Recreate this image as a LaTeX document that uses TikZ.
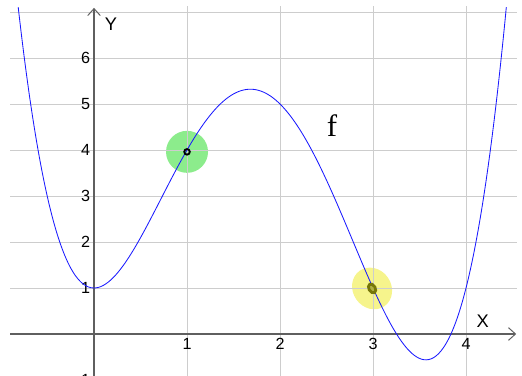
\documentclass[tikz,border=0pt]{standalone}
\usepackage{fontspec}
\setmainfont{Liberation Sans}
\newfontfamily\fserif{Liberation Serif}
\usetikzlibrary{arrows.meta}
\definecolor{plotGrid}{RGB}{205,205,205}
\definecolor{plotAxis}{RGB}{95,95,95}
\definecolor{plotCurve}{RGB}{25,25,255}
\definecolor{plotGreen}{RGB}{140,236,140}
\definecolor{plotYellow}{RGB}{246,244,140}
\definecolor{plotOlive}{RGB}{118,118,8}

\begin{document}
\begin{tikzpicture}[
      x=2.325cm, y=1.15cm,
      gridline/.style={draw=plotGrid, line width=0.6pt},
      axisline/.style={draw=plotAxis, line width=1.4pt, -{Straight Barb[length=5pt,width=9pt,line width=0.7pt]}},
      ticklabel/.style={font=\fontsize{11.5}{13}\selectfont, inner sep=0pt},
      axislabel/.style={font=\fontsize{13}{15}\selectfont, inner sep=0pt}
    ]
    \useasboundingbox (-1.011,-0.913) rectangle (4.602,7.261);
    \clip (-1.011,-0.913) rectangle (4.602,7.261);

    \fill[plotGreen] (1,3.96) circle (0.525cm);
    \fill[plotYellow, rotate around={35:(2.99,0.99)}] (2.99,0.99) ellipse (0.48cm and 0.54cm);

    \foreach \y in {1,...,7} {
      \draw[gridline] (-0.9,\y) -- (4.55,\y);
    }
    \foreach \x in {1,...,4} {
      \draw[gridline] (\x,-1.2) -- (\x,7.12);
    }

    \draw[axisline] (-0.9,0) -- (4.54,0);
    \draw[axisline] (0,-1.2) -- (0,7.09);

    \foreach \y in {1,...,6} {
      \node[ticklabel, anchor=east] (ylab\y) at (-0.04,\y) {\y};
    }
    \node[ticklabel, anchor=east] (ylabm1) at (-0.04,-1) {-1};
    \foreach \x in {1,...,4} {
      \node[ticklabel] (xlab\x) at (\x,-0.21) {\x};
    }
    \node[axislabel] (ylabel) at (0.183,6.74) {Y};
    \node[axislabel] (xlabel) at (4.18,0.28) {X};

    \begin{scope}
      \clip (-1,-1) rectangle (4.6,7.1);
      \draw[plotCurve, line width=0.6pt, domain=-0.83:4.45, samples=200, smooth]
        plot (\x, {0.5*(\x)^4-3.5*(\x)^3+6*(\x)^2+1});
    \end{scope}

    \node[font=\fserif\fontsize{22}{24}\selectfont, inner sep=0pt] (fname) at (2.56,4.54) {f};

    \draw[black, line width=1.3pt] (1,3.96) circle (0.07cm);
    \draw[plotOlive, line width=2pt, fill=plotOlive!55!plotYellow, rotate around={30:(2.99,0.99)}]
      (2.99,0.99) ellipse (0.08cm and 0.12cm);
  \end{tikzpicture}
\end{document}
